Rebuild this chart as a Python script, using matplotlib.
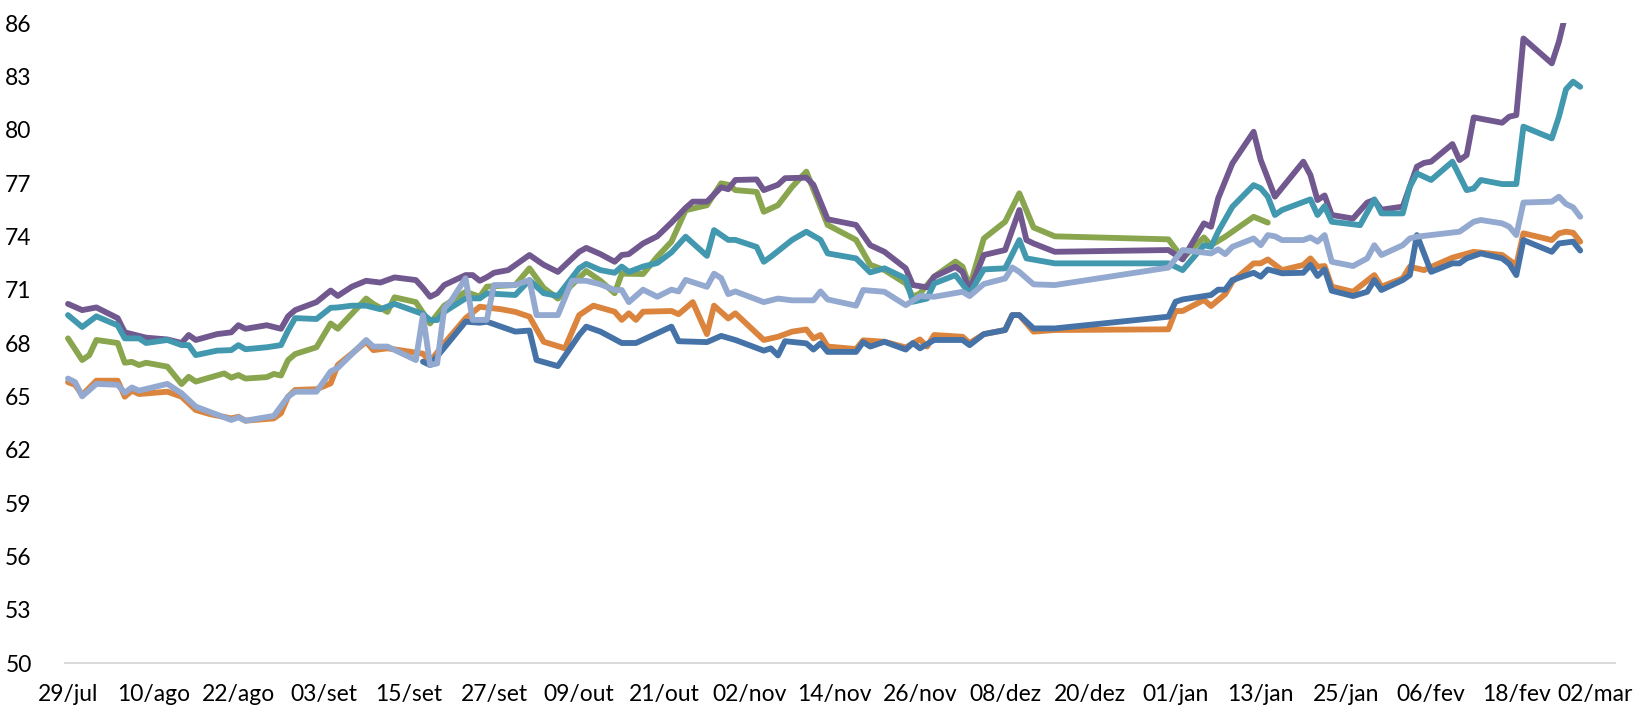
import matplotlib
matplotlib.use("Agg")
import matplotlib.pyplot as plt
from matplotlib.transforms import ScaledTranslation
import pandas as pd

# Day offsets are counted from 29/jul (first point of the chart)
START = pd.Timestamp("2022-07-29")

x_labels = ["29/jul", "10/ago", "22/ago", "03/set", "15/set", "27/set", "09/out",
            "21/out", "02/nov", "14/nov", "26/nov", "08/dez", "20/dez", "01/jan",
            "13/jan", "25/jan", "06/fev", "18/fev", "02/mar"]
y_ticks = [50, 53, 56, 59, 62, 65, 68, 71, 74, 77, 80, 83, 86]

# orange series
orange_days = [0, 1, 2, 4, 7, 8, 9, 10, 14, 16, 18, 20, 23, 24, 25, 29, 30, 31, 32, 35, 37, 38,
               42, 43, 45, 50, 51, 53, 56, 58, 61, 63, 65, 67, 70, 72, 74, 77, 78, 79, 80, 81,
               85, 86, 88, 90, 91, 93, 94, 98, 100, 102, 104, 105, 106, 107, 111, 112, 115,
               118, 120, 121, 122, 126, 127, 129, 132, 133, 134, 136, 139, 155, 156, 157, 160,
               161, 163, 164, 167, 168, 169, 171, 174, 175, 176, 177, 178, 181, 184, 185, 188,
               189, 191, 195, 198, 202, 204, 205, 209, 210, 211, 212, 213]
orange_vals = [65.8, 65.65, 65.07, 65.88, 65.88, 64.98, 65.32, 65.13, 65.26, 64.98, 64.23, 64.0,
               63.76, 63.85, 63.63, 63.76, 64.05, 64.98, 65.36, 65.4, 65.73, 66.76,
               68.07, 67.6, 67.7, 67.4, 66.95, 67.98, 69.39, 70.04, 69.9, 69.75, 69.48, 68.07,
               67.7, 69.57, 70.1, 69.76, 69.3, 69.67, 69.3, 69.76,
               69.8, 69.62, 70.3, 68.5, 70.1, 69.38, 69.67, 68.17, 68.35, 68.64, 68.76, 68.26,
               68.45, 67.8, 67.66, 68.15, 68.07,
               67.75, 68.2, 67.8, 68.45, 68.35, 68.0, 68.5, 68.73, 69.57, 69.57, 68.64, 68.73,
               68.77, 69.8, 69.8, 70.42,
               70.08, 70.75, 71.45, 72.48, 72.48, 72.7, 72.1, 72.39, 72.76, 72.29, 72.33, 71.17,
               70.88, 71.82, 71.17, 71.64,
               72.29, 72.1, 72.8, 73.13, 72.95, 72.38, 74.17, 73.79, 74.17, 74.26, 74.2, 73.7]

# dark blue series (starts mid September)
blue_days = [50, 51, 56, 58, 59, 63, 65, 66, 69, 72, 73, 75, 78, 80, 85, 86, 90, 92, 94, 98, 99,
             100, 101, 104, 105, 106, 107, 111, 112, 113, 115, 118, 119, 120, 122, 126, 127, 129,
             132, 133, 134, 136, 139, 155, 156, 157, 161, 162, 163, 164, 167, 168, 169, 171, 174,
             175, 176, 177, 178, 181, 183, 184, 185, 188, 189, 190, 192, 195, 196, 197, 199, 202,
             203, 204, 205, 209, 210, 211, 212, 213]
blue_vals = [66.95, 66.76, 69.2, 69.14, 69.2, 68.64, 68.7, 67.04, 66.7, 68.45, 68.92, 68.64, 68.0,
             68.0, 68.92, 68.1, 68.05, 68.4, 68.17, 67.57, 67.7,
             67.3, 68.1, 67.98, 67.63, 67.98, 67.5, 67.5, 68.05, 67.8, 68.07, 67.63, 68.0, 67.7,
             68.17, 68.17, 67.88, 68.5,
             68.73, 69.57, 69.57, 68.82, 68.82, 69.48, 70.32, 70.45, 70.7, 71.0, 71.0, 71.54,
             71.95, 71.73, 72.14, 71.92, 71.95,
             72.39, 71.77, 72.14, 70.94, 70.64, 70.88, 71.54, 70.98, 71.54, 71.82, 74.07, 72.0,
             72.48, 72.48, 72.76, 73.04, 72.76,
             72.45, 71.82, 73.79, 73.13, 73.6, 73.65, 73.7, 73.2]

# green series (ends mid January)
green_days = [0, 2, 3, 4, 7, 8, 9, 10, 11, 14, 16, 17, 18, 22, 23, 24, 25, 28, 29, 30, 31, 32,
              35, 37, 38, 42, 43, 45, 46, 49, 51, 53, 56, 58, 59, 63, 65, 67, 69, 73, 75, 77, 78,
              81, 83, 85, 87, 90, 92, 93, 94, 97, 98, 100, 102, 104, 107, 111, 113, 115, 118,
              119, 120, 122, 125, 126, 127, 129, 132, 134, 136, 139, 155, 157, 160, 161, 163,
              167, 169]
green_vals = [68.26, 67.04, 67.32, 68.17, 68.0, 66.89, 66.94, 66.76, 66.89, 66.67, 65.69, 66.1,
              65.83, 66.29, 66.05, 66.2, 66.0, 66.08, 66.26, 66.17, 67.04, 67.38,
              67.76, 69.1, 68.8, 70.5, 70.2, 69.75, 70.57, 70.3, 69.1, 70.1, 70.88, 70.6, 71.17,
              71.26, 72.2, 71.1, 70.5, 72.05, 71.5, 70.8, 71.9,
              71.88, 72.85, 73.7, 75.47, 75.75, 76.98, 76.9, 76.6, 76.5, 75.38, 75.75, 76.79,
              77.64, 74.64, 73.8, 72.4, 72.1, 71.35,
              70.6, 70.79, 71.73, 72.58, 72.29, 71.17, 73.88, 74.82, 76.42, 74.5, 74.0, 73.83,
              72.76, 73.94, 73.5, 73.98,
              75.1, 74.77]

# purple series
purple_days = [0, 2, 4, 7, 8, 11, 14, 16, 17, 18, 21, 23, 24, 25, 28, 30, 31, 32, 35, 37, 38, 40,
               42, 44, 46, 49, 50, 51, 52, 53, 56, 57, 58, 59, 60, 62, 65, 67, 69, 72, 73, 75, 77,
               78, 79, 81, 83, 85, 87, 88, 90, 92, 93, 94, 97, 98, 100, 101, 104, 105, 107, 111,
               113, 115, 118, 119, 121, 122, 125, 126, 127, 129, 132, 134, 135, 136, 139, 155,
               157, 160, 161, 162, 164, 167, 168, 170, 174, 175, 176, 177, 178, 181, 183, 184,
               185, 188, 190, 191, 192, 195, 196, 197, 198, 202, 203, 204, 205, 209, 210, 211,
               212, 213]
purple_vals = [70.2, 69.85, 70.0, 69.4, 68.6, 68.3, 68.2, 68.0, 68.45, 68.17, 68.5, 68.6, 69.0,
               68.8, 69.0, 68.8, 69.5, 69.85, 70.3, 70.95, 70.65, 71.17,
               71.5, 71.4, 71.69, 71.54, 71.1, 70.6, 70.8, 71.26, 71.82, 71.82, 71.5, 71.7, 71.95,
               72.1, 72.95, 72.4, 72.0, 73.13, 73.35, 73.0, 72.57,
               72.95, 73.0, 73.6, 74.0, 74.77, 75.6, 75.95, 75.95, 76.76, 76.65, 77.17, 77.2,
               76.6, 76.9, 77.27, 77.3, 76.9, 74.96, 74.64,
               73.5, 73.13, 72.2, 71.26, 71.13, 71.73, 72.29, 72.0, 70.98, 72.95, 73.23, 75.48,
               73.79, 73.6, 73.13, 73.23,
               72.7, 74.73, 74.54, 76.13, 78.1, 79.88, 78.29, 76.23, 78.2, 77.45, 76.04, 76.3,
               75.2, 75.0, 75.9, 76.05,
               75.5, 75.67, 77.92, 78.13, 78.2, 79.19, 78.29, 78.57, 80.69, 80.39, 80.73, 80.82,
               85.13, 83.73, 84.95, 86.6,
               87.3, 87.1]

# teal series
teal_days = [0, 2, 4, 7, 8, 10, 11, 14, 16, 17, 18, 21, 23, 24, 25, 28, 30, 31, 32, 35, 37, 38,
             40, 42, 44, 46, 50, 51, 52, 53, 56, 58, 59, 63, 65, 67, 69, 72, 73, 75, 77, 78, 79,
             81, 83, 85, 87, 90, 91, 93, 94, 97, 98, 99, 102, 104, 106, 107, 111, 113, 115, 118,
             119, 121, 122, 125, 127, 129, 132, 134, 135, 139, 155, 157, 160, 161, 162, 164, 167,
             168, 169, 170, 171, 175, 176, 177, 178, 182, 184, 185, 188, 189, 190, 192, 195, 197,
             198, 199, 202, 204, 205, 209, 210, 211, 212, 213]
teal_vals = [69.57, 68.9, 69.5, 68.99, 68.26, 68.26, 68.0, 68.17, 67.88, 67.88, 67.32, 67.57,
             67.6, 67.88, 67.65, 67.76, 67.88, 68.7, 69.4, 69.35, 69.98, 70.0,
             70.1, 70.1, 69.9, 70.2, 69.63, 69.29, 69.29, 69.75, 70.51, 70.51, 70.79, 70.7,
             71.54, 70.8, 70.65, 72.2, 72.45, 72.1, 71.95, 72.3, 72.0,
             72.3, 72.5, 73.1, 73.98, 72.9, 74.35, 73.8, 73.8, 73.4, 72.57, 72.85, 73.8, 74.26,
             73.8, 73.04, 72.76, 71.97, 72.2, 71.63,
             70.32, 70.5, 71.35, 71.82, 70.79, 72.14, 72.2, 73.79, 72.76, 72.48, 72.48, 72.1,
             73.5, 73.41, 74.26, 75.66, 76.88,
             76.7, 76.23, 75.2, 75.48, 76.08, 75.2, 75.7, 74.82, 74.63, 76.08, 75.29, 75.29,
             76.79, 77.54, 77.17, 78.2, 76.6,
             76.69, 77.17, 76.94, 76.94, 80.17, 79.51, 80.73, 82.27, 82.7, 82.41]

# light blue series
lblue_days = [0, 1, 2, 4, 7, 8, 9, 10, 14, 16, 18, 23, 24, 25, 29, 31, 32, 35, 37, 38, 42, 43,
              45, 49, 50, 51, 52, 53, 54, 56, 57, 59, 60, 63, 65, 66, 69, 71, 73, 75, 77, 78, 79,
              81, 83, 85, 86, 87, 90, 91, 92, 93, 94, 98, 100, 102, 105, 106, 107, 111, 112, 115,
              118, 120, 122, 126, 127, 129, 132, 133, 134, 136, 139, 155, 157, 161, 162, 163,
              164, 167, 168, 169, 170, 171, 174, 175, 176, 177, 178, 181, 183, 184, 185, 188,
              189, 190, 196, 198, 199, 202, 203, 204, 205, 209, 210, 211, 212, 213]
lblue_vals = [66.0, 65.8, 65.0, 65.7, 65.65, 65.2, 65.5, 65.32, 65.7, 65.17, 64.42, 63.67, 63.82,
              63.63, 63.9, 64.98, 65.26, 65.26, 66.4, 66.6, 68.17, 67.8,
              67.8, 67.04, 69.57, 66.76, 66.85, 69.95, 70.4, 71.64, 69.3, 69.3, 71.26, 71.26,
              71.54, 69.57, 69.57, 71.5, 71.5, 71.3, 70.98, 70.98, 70.3,
              71.0, 70.6, 71.0, 70.9, 71.55, 71.16, 71.9, 71.65, 70.75, 70.9, 70.3, 70.5, 70.4,
              70.4, 70.9, 70.45, 70.1, 70.98, 70.88,
              70.13, 70.64, 70.6, 70.88, 70.64, 71.32, 71.63, 72.25, 72.0, 71.3, 71.26, 72.24,
              73.23, 73.04, 73.27, 73.0,
              73.41, 73.88, 73.5, 74.07, 74.0, 73.79, 73.79, 73.94, 73.7, 74.07, 72.57, 72.33,
              72.76, 73.5, 72.95, 73.5,
              73.88, 73.98, 74.26, 74.82, 74.92, 74.73, 74.54, 74.07, 75.9, 75.95, 76.23, 75.82,
              75.63, 75.1]

series = [
    (orange_days, orange_vals, "#DB843D"),
    (green_days, green_vals, "#89A54E"),
    (purple_days, purple_vals, "#71588F"),
    (teal_days, teal_vals, "#4198AF"),
    (blue_days, blue_vals, "#4572A7"),
    (lblue_days, lblue_vals, "#93A9CF"),
]


def to_dates(days):
    return START + pd.to_timedelta(days, unit="D")


plt.rcParams["font.family"] = ["Lato", "DejaVu Sans"]

fig = plt.figure(figsize=(16.34, 7.10), dpi=100)
ax = fig.add_axes([65 / 1634, 1 - 663 / 710, 1550 / 1634, 640 / 710])

for days, vals, color in series:
    ax.plot(to_dates(days), vals, color=color, lw=4.2,
            solid_capstyle="round", solid_joinstyle="round")

ax.set_ylim(50, 86)
ax.set_yticks(y_ticks)
ax.set_xlim(START - pd.Timedelta(days=0.42), START + pd.Timedelta(days=217.9))
tick_dates = [START + pd.Timedelta(days=12 * i) for i in range(len(x_labels))]
ax.set_xticks(tick_dates)
ax.set_xticklabels(x_labels)

for side in ["top", "right", "left"]:
    ax.spines[side].set_visible(False)
ax.spines["bottom"].set_color("#D9D9D9")
ax.spines["bottom"].set_linewidth(1.4)
ax.tick_params(axis="both", length=0, labelsize=16.5, colors="black")
ax.tick_params(axis="y", pad=24)
ax.tick_params(axis="x", pad=15)

# last date label is pushed left so it stays inside the picture
last = ax.get_xticklabels()[-1]
last.set_transform(last.get_transform() + ScaledTranslation(-6 / 100, 0, fig.dpi_scale_trans))

fig.savefig("out.png", dpi=100)
